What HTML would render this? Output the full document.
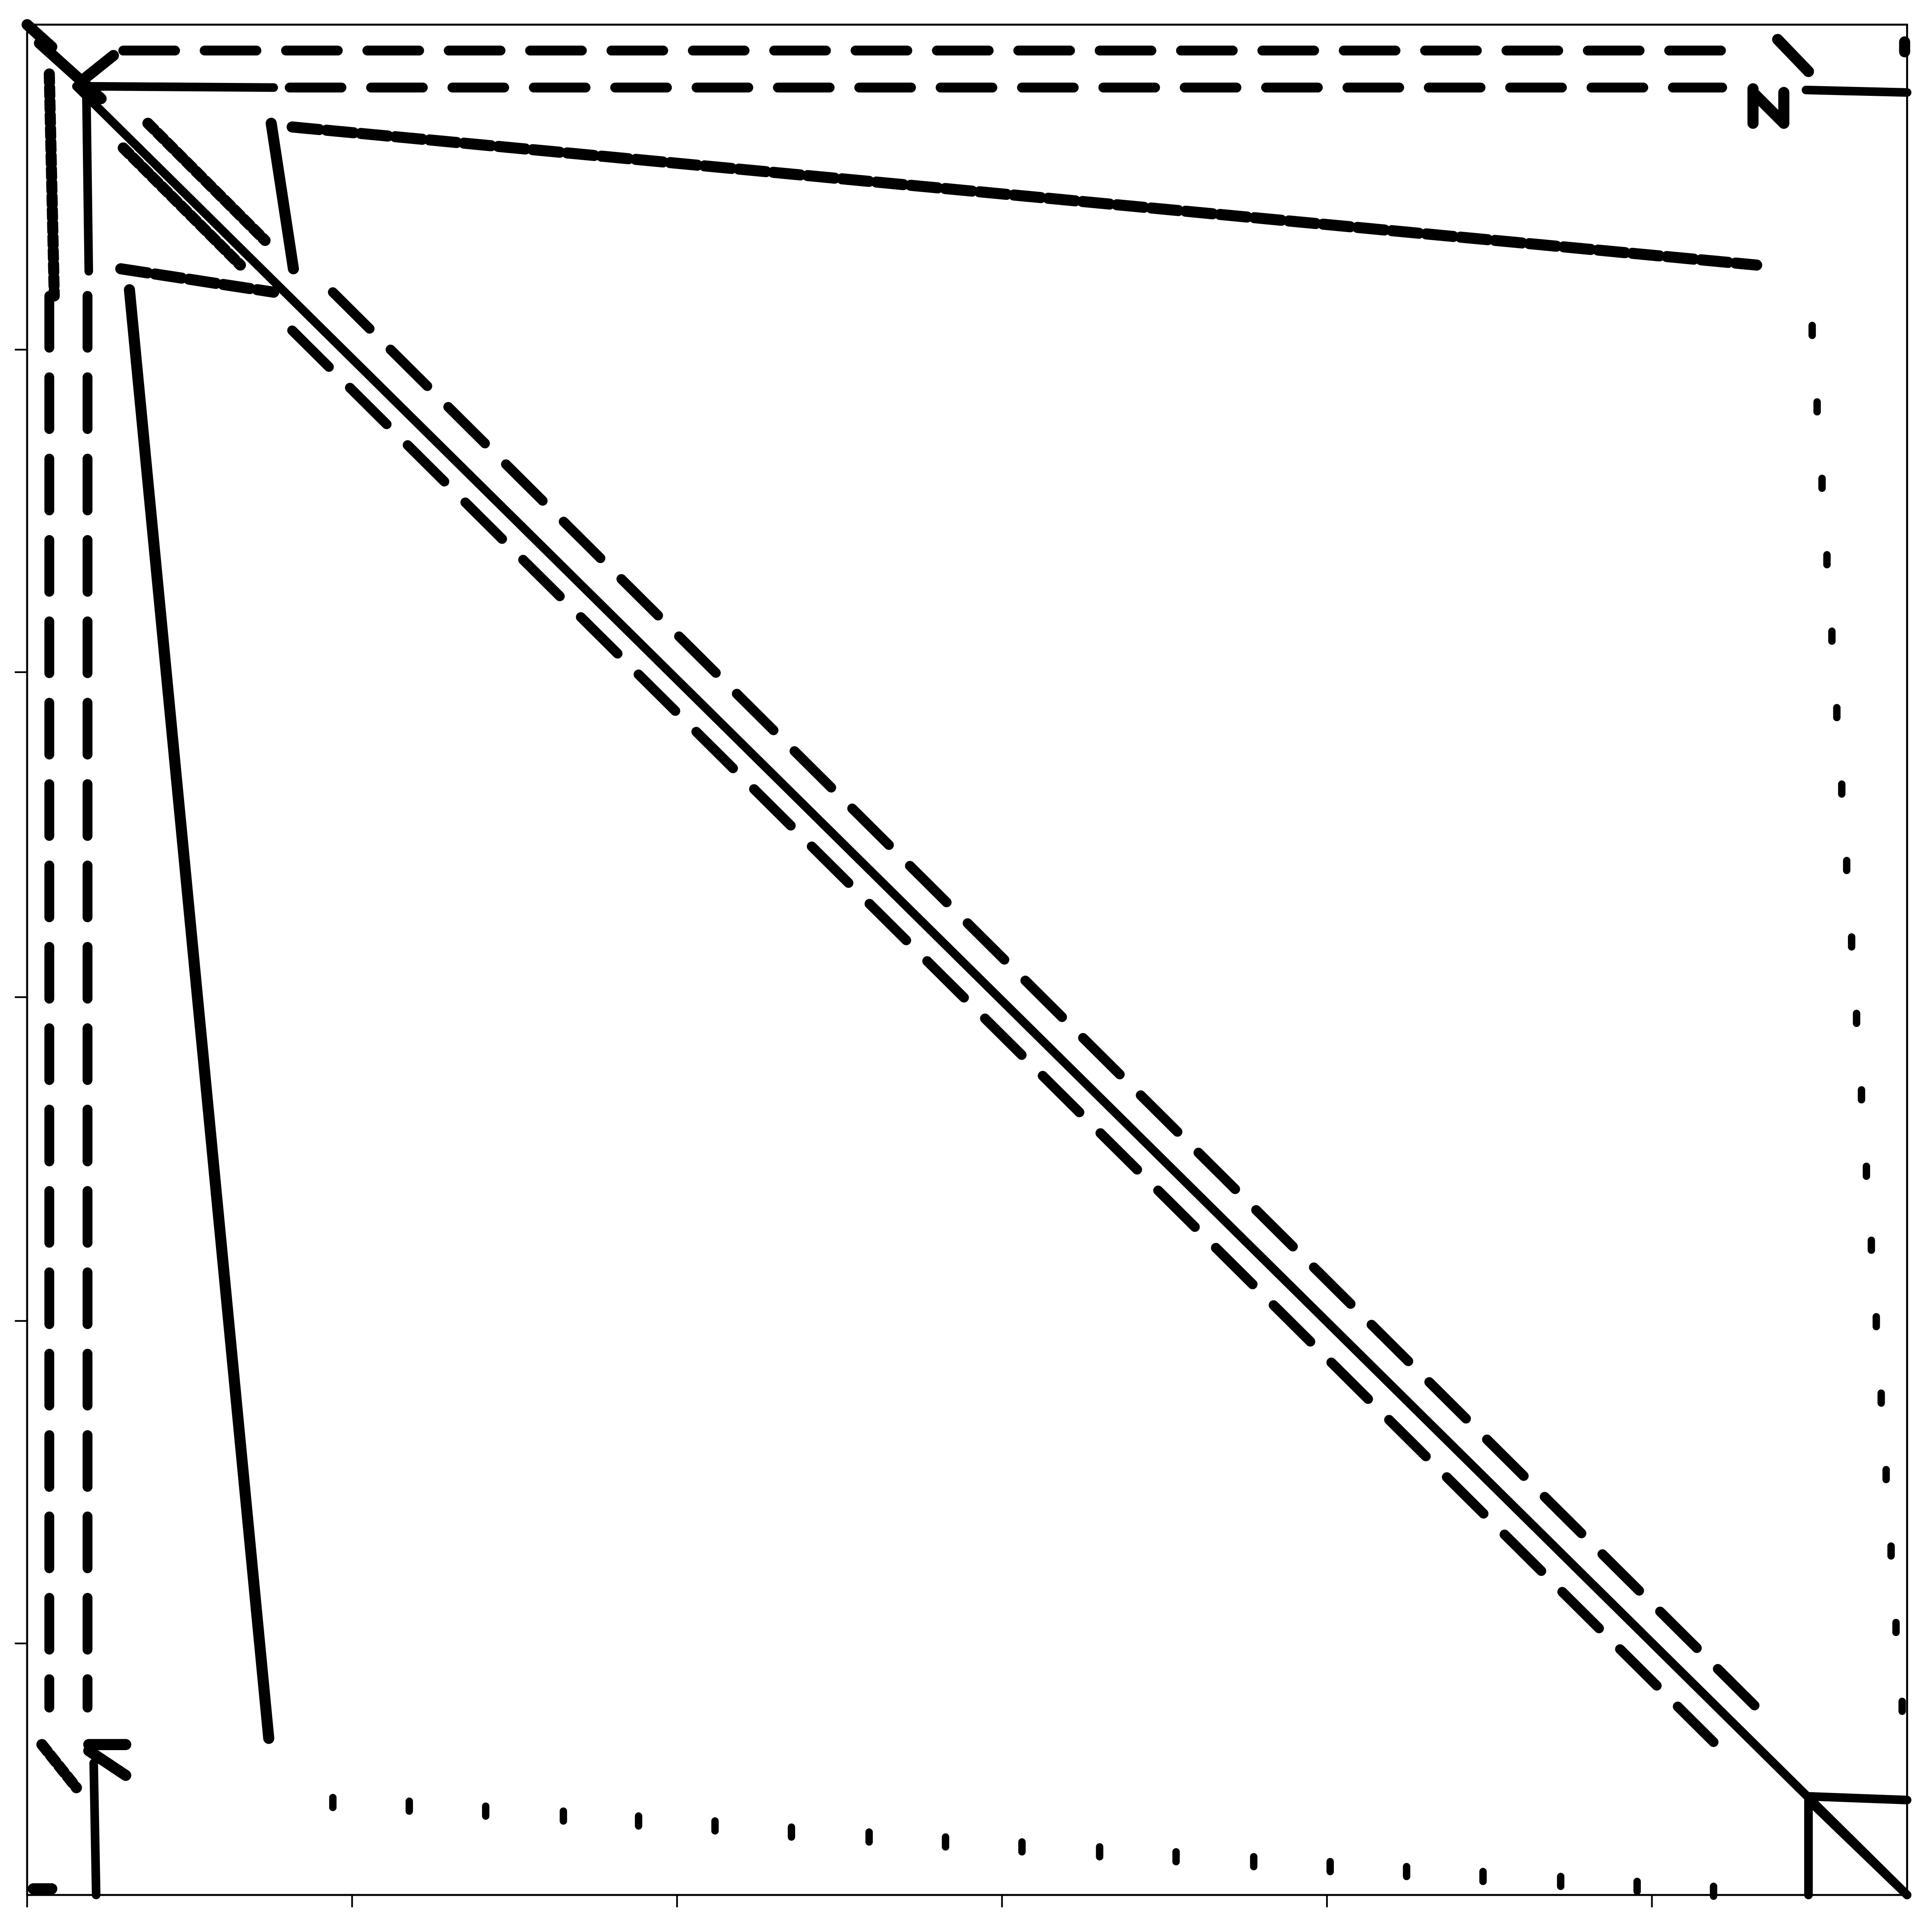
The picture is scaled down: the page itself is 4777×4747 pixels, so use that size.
<!DOCTYPE html>
<html><head><meta charset="utf-8"><style>
html,body{margin:0;padding:0;background:#fff}
svg{display:block}
</style></head><body>
<svg id="chart" xmlns="http://www.w3.org/2000/svg" width="4777" height="4747" viewBox="0 0 1567.2 1557.3" preserveAspectRatio="none">
<rect x="0" y="0" width="1568" height="1558" fill="#fff"/>
<g id="marks"></g>
<g id="axes"></g>
</svg>
<script>
// Data in matrix-index units (column, row), domain 0..1525 x 0..1517
const xTicks = [0, 263.6, 527.2, 790.8, 1054.4, 1318];
const yTicks = [263.6, 525.2, 788.8, 1051.4, 1313];
// segments: [c0, r0, c1, r1]
const solidSegs = [[40,50,1525,1517],[48,50,200,51],[1443,53,1525,55],[48,50,50,200],[54,1410,56,1517],[1445,1437,1445,1517],[1445,1437,1525,1440],[1445,1440,1525,1517]];
const thickSegs = [[83,215,196,1390],[198,80,216,198]];
const dashedSegs = [[248,217,1403,1365],[215,248,1368,1393],[78,21,1375,21],[213,51,1375,51],[18,220,18,1365],[49,220,49,1365]];
const dashDotSegs = [[215,83,1403,195],[76,198,200,217]];
const stepSegs = [[98,80,193,175],[78,100,173,195],[18,40,22,220],[12,1395,40,1430]];
const dotRow = [[248,1442],[310,1445],[372,1449],[435,1453],[496,1457],[558,1461],[620,1466],[683,1470],[745,1474],[807,1478],[870,1482],[932,1486],[995,1490],[1057,1494],[1119,1498],[1181,1502],[1244,1506],[1306,1510],[1368,1514]];
const dotCol = [[1448,248],[1452,310],[1456,372],[1460,434],[1464,496],[1468,558],[1472,620],[1476,682],[1480,744],[1484,806],[1488,868],[1492,930],[1496,990],[1500,1052],[1504,1114],[1508,1176],[1512,1238],[1516,1300],[1521,1364]];
const extraSegs = [[0,0,20,18],[10,15,60,60],[45,45,70,25],[50,1395,80,1395],[50,1400,80,1420],[1400,52,1400,80],[1400,55,1425,80],[1425,55,1425,80],[1420,12,1445,38],[1523,14,1523,22],[5,1512,20,1512]];

const X0=22, Y0=20, W=1525, H=1517;
const sx = c => X0 + c;
const sy = r => Y0 + r;
const NS="http://www.w3.org/2000/svg";
const marks=document.getElementById('marks');
const axes=document.getElementById('axes');
function line(parent,a,b,c,d,w,dash,name){
  const l=document.createElementNS(NS,'line');
  l.setAttribute('x1',sx(a));l.setAttribute('y1',sy(b));l.setAttribute('x2',sx(c));l.setAttribute('y2',sy(d));
  l.setAttribute('stroke','#000');l.setAttribute('stroke-width',w);l.setAttribute('stroke-linecap','round');
  if(dash) l.setAttribute('stroke-dasharray',dash);
  
  
  parent.appendChild(l);
}
solidSegs.forEach(s=>line(marks,s[0],s[1],s[2],s[3],7,null,'solid-band'));
thickSegs.forEach(s=>line(marks,s[0],s[1],s[2],s[3],9,null,'jagged-steep-band'));
dashedSegs.forEach(s=>line(marks,s[0],s[1],s[2],s[3],8,'42 24','dashed-band'));
dashDotSegs.forEach(s=>line(marks,s[0],s[1],s[2],s[3],9,'22 6','jagged-band'));
stepSegs.forEach(s=>line(marks,s[0],s[1],s[2],s[3],9,'7 4','stepped-band'));
extraSegs.forEach(s=>line(marks,s[0],s[1],s[2],s[3],9,null,'corner-entry'));
dotRow.forEach(p=>line(marks,p[0],p[1]-4,p[0],p[1]+4,6,null,'dot-row-entry'));
dotCol.forEach(p=>line(marks,p[0],p[1]-4,p[0],p[1]+4,6,null,'dot-column-entry'));
const fr=document.createElementNS(NS,'rect');
fr.setAttribute('x',X0);fr.setAttribute('y',Y0);fr.setAttribute('width',W);fr.setAttribute('height',H);
fr.setAttribute('fill','none');fr.setAttribute('stroke','#000');fr.setAttribute('stroke-width',1.6);


axes.appendChild(fr);
xTicks.forEach(t=>{
  const l=document.createElementNS(NS,'line');
  l.setAttribute('x1',sx(t));l.setAttribute('x2',sx(t));l.setAttribute('y1',Y0+H);l.setAttribute('y2',Y0+H+10);
  l.setAttribute('stroke','#000');l.setAttribute('stroke-width',1.4);
  
  
  axes.appendChild(l);
});
yTicks.forEach(t=>{
  const l=document.createElementNS(NS,'line');
  l.setAttribute('x1',X0-10);l.setAttribute('x2',X0);l.setAttribute('y1',sy(t));l.setAttribute('y2',sy(t));
  l.setAttribute('stroke','#000');l.setAttribute('stroke-width',1.4);
  
  
  axes.appendChild(l);
});
</script>
</body></html>
